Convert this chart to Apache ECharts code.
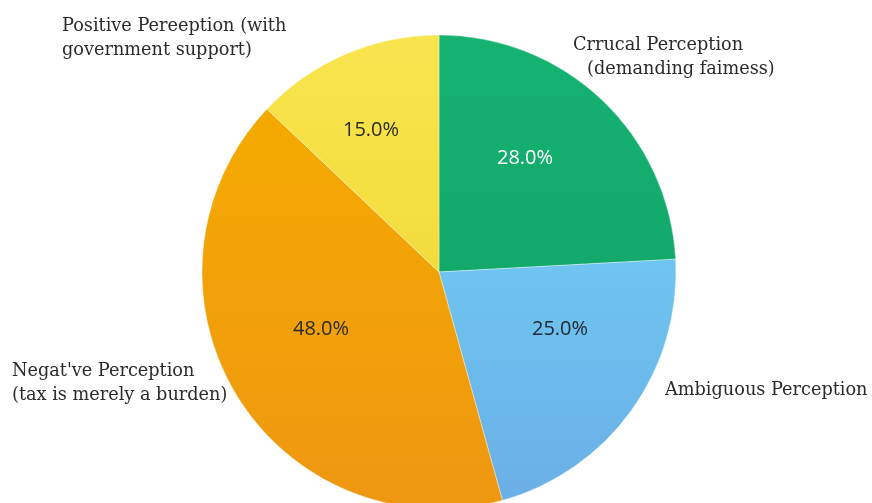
<!DOCTYPE html>
<html>
<head>
<meta charset="utf-8">
<script src="https://cdn.jsdelivr.net/npm/echarts@6/dist/echarts.min.js"></script>
<style>
html,body{margin:0;padding:0;background:#fff;}
#main{width:872px;height:503px;}
</style>
</head>
<body>
<div id="main"></div>
<script>
// ---- data ----
var categories = [
  'Crrucal Perception\n(demanding faimess)',
  'Ambiguous Perception',
  "Negat've Perception\n(tax is merely a burden)",
  'Positive Pereeption (with\ngovernment support)'
];
var values = [28, 25, 48, 15];

// ---- styling ----
var colors = [
  ['#15b272', '#13a96a'],
  ['#6fc5f1', '#6aafe6'],
  ['#f4aa00', '#ee9712'],
  ['#f8e54e', '#f3dc3c']
];
var pctColors = ['#ffffff', '#222a33', '#2a2a2a', '#2a2a2a'];
// label anchor positions (px)
var pctPos = [[525, 158], [560, 329], [321, 329], [371, 130]];
var namePos = [[573, 57, 'left'], [665, 390, 'left'], [12, 383, 'left'], [62, 38, 'left']];
var nameFont = 'DejaVu Serif';
var nameSize = 17.7;

var chart = echarts.init(document.getElementById('main'), null, {renderer: 'canvas'});

function grad(i) {
  return new echarts.graphic.LinearGradient(0, 0, 0, 1, [
    {offset: 0, color: colors[i][0]},
    {offset: 1, color: colors[i][1]}
  ]);
}

var pieData = categories.map(function (c, i) {
  return {name: c, value: values[i], itemStyle: {color: grad(i)}, label: {color: pctColors[i]}};
});
var nameData = categories.map(function (c, i) {
  return {name: c, value: values[i], itemStyle: {color: 'rgba(0,0,0,0)'}};
});

var radius = 237;

chart.setOption({
  animation: false,
  backgroundColor: '#ffffff',
  series: [
    {
      type: 'pie',
      center: [439, 272],
      radius: radius,
      startAngle: 90,
      clockwise: true,
      itemStyle: {borderColor: 'rgba(255,255,255,0.6)', borderWidth: 0.6},
      label: {
        show: true,
        position: 'inside',
        fontFamily: 'Open Sans',
        fontSize: 20,
        overflow: 'none',
        formatter: function (p) { return p.value.toFixed(1) + '%'; },
        color: '#2a2a2a'
      },
      labelLayout: function (p) {
        var i = p.dataIndex;
        return {x: pctPos[i][0], y: pctPos[i][1], align: 'center', verticalAlign: 'middle'};
      },
      data: pieData
    },
    {
      type: 'pie',
      center: [439, 272],
      radius: radius,
      startAngle: 90,
      clockwise: true,
      silent: true,
      z: 3,
      itemStyle: {borderWidth: 0},
      labelLine: {show: false},
      label: {
        show: true,
        position: 'outside',
        overflow: 'none',
        width: 400,
        fontFamily: nameFont,
        fontSize: nameSize,
        lineHeight: 24,
        color: '#2b2b2b',
        formatter: function (p) {
          if (p.dataIndex === 0) {
            var parts = p.name.split('\n');
            return '{a|' + parts[0] + '}\n{b|' + parts[1] + '}';
          }
          return p.name;
        },
        rich: {
          a: {fontFamily: nameFont, fontSize: nameSize, lineHeight: 24, color: '#2b2b2b'},
          b: {fontFamily: nameFont, fontSize: nameSize, lineHeight: 24, color: '#2b2b2b', padding: [0, 0, 0, 14]}
        }
      },
      labelLayout: function (p) {
        var i = p.dataIndex;
        return {x: namePos[i][0], y: namePos[i][1], align: namePos[i][2], verticalAlign: 'middle'};
      },
      data: nameData
    }
  ]
});
</script>
</body>
</html>
